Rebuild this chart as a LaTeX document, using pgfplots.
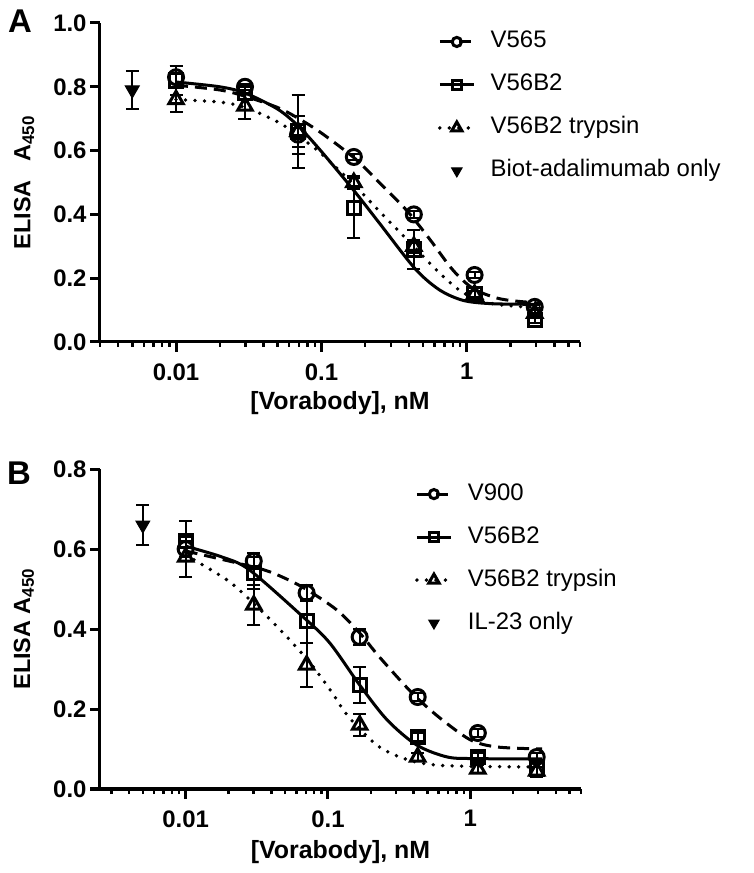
\documentclass[border=0pt]{standalone}
\usepackage{fontspec}
\setmainfont{Liberation Sans}
\usepackage{pgfplots}
\usepackage{pgfplotstable}
\pgfplotsset{compat=1.18}

% ---------- Panel A data ----------
\pgfplotstableread{
x y e
0.01 0.83 0.035
0.0298 0.80 0.01
0.069 0.65 0.06
0.167 0.58 0.01
0.432 0.40 0.01
1.13 0.21 0.01
2.93 0.11 0.01
}\AcirTab
\pgfplotstableread{
x y e
0.01 0.82 0.045
0.0298 0.78 0.02
0.069 0.66 0.115
0.167 0.42 0.095
0.432 0.29 0.06
1.13 0.15 0.02
2.93 0.07 0.01
}\AsqTab
\pgfplotstableread{
x y e
0.01 0.76 0.04
0.0298 0.74 0.04
0.069 0.66 0.05
0.167 0.50 0.02
0.432 0.30 0.02
1.13 0.15 0.01
2.93 0.09 0.01
}\AtriTab
\pgfplotstableread{
x y e
0.005 0.79 0.06
}\AonlyTab
\pgfplotstableread{
x y
0.01 0.805
0.02 0.79
0.03 0.77
0.05 0.735
0.07 0.70
0.1 0.655
0.17 0.575
0.25 0.50
0.39 0.41
0.56 0.32
0.8 0.226
1.1 0.168
1.6 0.138
2.2 0.128
3.2 0.122
}\AdashTab
\pgfplotstableread{
x y
0.01 0.815
0.02 0.80
0.03 0.78
0.05 0.73
0.07 0.675
0.1 0.597
0.165 0.478
0.25 0.373
0.44 0.23
0.65 0.163
0.95 0.13
1.5 0.12
3.2 0.118
}\AsolidTab
\pgfplotstableread{
x y
0.01 0.76
0.02 0.752
0.03 0.735
0.05 0.69
0.07 0.645
0.1 0.59
0.17 0.49
0.25 0.41
0.43 0.30
0.65 0.216
0.95 0.154
1.5 0.12
3.2 0.107
}\AdotTab

% ---------- Panel B data ----------
\pgfplotstableread{
x y e
0.01 0.60 0.02
0.0301 0.57 0.02
0.0708 0.49 0.02
0.167 0.38 0.02
0.427 0.23 0.01
1.13 0.14 0.01
2.93 0.08 0.01
}\BcirTab
\pgfplotstableread{
x y e
0.01 0.62 0.05
0.0301 0.54 0.04
0.0708 0.42 0.055
0.167 0.26 0.045
0.427 0.13 0.01
1.13 0.08 0.01
2.93 0.05 0.02
}\BsqTab
\pgfplotstableread{
x y e
0.01 0.58 0.05
0.0301 0.46 0.05
0.0708 0.31 0.055
0.167 0.16 0.028
0.427 0.08 0.01
1.13 0.05 0.01
2.93 0.045 0.01
}\BtriTab
\pgfplotstableread{
x y e
0.005 0.66 0.05
}\BonlyTab
\pgfplotstableread{
x y
0.01 0.595
0.023 0.565
0.039 0.543
0.066 0.505
0.115 0.448
0.167 0.39
0.23 0.33
0.39 0.24
0.6 0.18
1.0 0.123
1.55 0.105
3.2 0.10
}\BdashTab
\pgfplotstableread{
x y
0.01 0.607
0.018 0.58
0.028 0.548
0.067 0.43
0.103 0.365
0.167 0.26
0.26 0.173
0.42 0.11
0.69 0.08
1.1 0.076
3.2 0.075
}\BsolidTab
\pgfplotstableread{
x y
0.01 0.585
0.02 0.52
0.033 0.45
0.05 0.385
0.075 0.315
0.105 0.245
0.14 0.18
0.23 0.105
0.39 0.07
0.7 0.058
3.2 0.055
}\BdotTab

\pgfplotsset{
  dashcurve/.style={black, line width=3bp, dash pattern=on 12bp off 7bp},
  solidcurve/.style={black, line width=3bp},
  dotcurve/.style={black, line width=3.8bp, line cap=round, dash pattern=on 0bp off 9.5bp},
  cirmark/.style={mark=o, mark size=7.5bp, mark options={solid, fill=white, line width=3bp}},
  sqmark/.style={mark=square, mark size=6.6bp, mark options={solid, fill=white, line width=3bp}},
  trimark/.style={mark=triangle, mark size=8.3bp, mark options={solid, fill=white, line width=3bp}},
  onlymark/.style={mark=triangle*, mark size=8bp, mark options={solid, fill=black, rotate=180, line width=1bp}},
  eb/.style={error bars/y dir=both, error bars/y explicit,
    error bars/error bar style={line width=2bp, black, solid},
    error bars/error mark options={line width=2bp, black, mark size=6.5bp, rotate=90}},
  limg/.style={legend image code/.code={\draw[mark repeat=2,mark phase=2] plot coordinates {(0bp,0bp) (17bp,0bp) (34bp,0bp)};}},
  limgonly/.style={legend image code/.code={\draw[draw=none] plot coordinates {(17bp,0bp)};}},
}

\begin{document}
\begin{tikzpicture}
\useasboundingbox (0,0) rectangle (754bp,873bp);

% ================= Panel A =================
\begin{axis}[
  xmode=log, scale only axis,
  at={(100bp,531bp)}, anchor=south west, width=480bp, height=319bp,
  xmin=0.003, xmax=6, ymin=0, ymax=1.0,
  axis x line*=bottom, axis y line*=left,
  axis line style={line width=3bp},
  tick align=outside, major tick length=10bp, minor tick length=5bp,
  major tick style={black, line width=3bp},
  minor tick style={black, line width=2.5bp},
  xtick={0.01,0.1,1}, xticklabels={0.01,0.1,1},
  ytick={0,0.2,0.4,0.6,0.8,1.0},
  yticklabels={0.0,0.2,0.4,0.6,0.8,1.0},
  minor xtick={0.003,0.004,0.005,0.006,0.007,0.008,0.009,0.02,0.03,0.04,0.05,0.06,0.07,0.08,0.09,0.2,0.3,0.4,0.5,0.6,0.7,0.8,0.9,2,3,4,5,6},
  tick label style={font=\fontsize{24}{28}\selectfont\bfseries},
  xticklabel style={yshift=-8bp},
  clip=false,
  xlabel={{[}Vorabody{]}, nM},
  xlabel style={font=\fontsize{25}{30}\selectfont\bfseries, at={(axis description cs:0.5,-0.19)}, anchor=center},
  ylabel={ELISA\hspace{0.8em}A\textsubscript{\fontsize{17}{20}\selectfont 450}},
  ylabel style={font=\fontsize{23.5}{27}\selectfont\bfseries, at={(axis description cs:-0.158,0.5)}, anchor=center},
  legend cell align=left,
  legend style={draw=none, fill=none, inner sep=0pt, outer sep=0pt, anchor=north west,
      at={(0.704,0.975)},
      font=\fontsize{24}{29}\selectfont, row sep=21bp,
      nodes={inner sep=0pt, text height=17bp, text depth=5bp}},
]
\addlegendimage{limg, dashcurve, cirmark, mark size=4.6bp}
\addlegendentry{\hspace{15bp}V565}
\addlegendimage{limg, solidcurve, sqmark, mark size=4.6bp}
\addlegendentry{\hspace{15bp}V56B2}
\addlegendimage{limg, dotcurve, trimark, mark size=6bp}
\addlegendentry{\hspace{15bp}V56B2 trypsin}
\addlegendimage{limgonly, onlymark, mark size=6bp}
\addlegendentry{\hspace{15bp}Biot-adalimumab only}

\addplot[dotcurve, smooth, forget plot] table[x=x,y=y] {\AdotTab};
\addplot[solidcurve, smooth, forget plot] table[x=x,y=y] {\AsolidTab};
\addplot[dashcurve, smooth, forget plot] table[x=x,y=y] {\AdashTab};
\addplot[black, only marks, trimark, forget plot, eb] table[x=x,y=y,y error=e] {\AtriTab};
\addplot[black, only marks, sqmark, forget plot, eb] table[x=x,y=y,y error=e] {\AsqTab};
\addplot[black, only marks, cirmark, forget plot, eb] table[x=x,y=y,y error=e] {\AcirTab};
\addplot[black, only marks, onlymark, forget plot, eb] table[x=x,y=y,y error=e] {\AonlyTab};
\end{axis}

% ================= Panel B =================
\begin{axis}[
  xmode=log, scale only axis,
  at={(100bp,84bp)}, anchor=south west, width=481bp, height=320bp,
  xmin=0.0025, xmax=6, ymin=0, ymax=0.8,
  axis x line*=bottom, axis y line*=left,
  axis line style={line width=3bp},
  tick align=outside, major tick length=10bp, minor tick length=5bp,
  major tick style={black, line width=3bp},
  minor tick style={black, line width=2.5bp},
  xtick={0.01,0.1,1}, xticklabels={0.01,0.1,1},
  ytick={0,0.2,0.4,0.6,0.8},
  yticklabels={0.0,0.2,0.4,0.6,0.8},
  minor xtick={0.003,0.004,0.005,0.006,0.007,0.008,0.009,0.02,0.03,0.04,0.05,0.06,0.07,0.08,0.09,0.2,0.3,0.4,0.5,0.6,0.7,0.8,0.9,2,3,4,5,6},
  tick label style={font=\fontsize{24}{28}\selectfont\bfseries},
  xticklabel style={yshift=-8bp},
  clip=false,
  xlabel={{[}Vorabody{]}, nM},
  xlabel style={font=\fontsize{25}{30}\selectfont\bfseries, at={(axis description cs:0.5,-0.197)}, anchor=center},
  ylabel={ELISA A\textsubscript{\fontsize{17}{20}\selectfont 450}},
  ylabel style={font=\fontsize{23.5}{27}\selectfont\bfseries, at={(axis description cs:-0.158,0.5)}, anchor=center},
  legend cell align=left,
  legend style={draw=none, fill=none, inner sep=0pt, outer sep=0pt, anchor=north west,
      at={(0.655,0.956)},
      font=\fontsize{24}{29}\selectfont, row sep=21bp,
      nodes={inner sep=0pt, text height=17bp, text depth=5bp}},
]
\addlegendimage{limg, dashcurve, cirmark, mark size=4.6bp}
\addlegendentry{\hspace{15bp}V900}
\addlegendimage{limg, solidcurve, sqmark, mark size=4.6bp}
\addlegendentry{\hspace{15bp}V56B2}
\addlegendimage{limg, dotcurve, trimark, mark size=6bp}
\addlegendentry{\hspace{15bp}V56B2 trypsin}
\addlegendimage{limgonly, onlymark, mark size=6bp}
\addlegendentry{\hspace{15bp}IL-23 only}

\addplot[dotcurve, smooth, forget plot] table[x=x,y=y] {\BdotTab};
\addplot[solidcurve, smooth, forget plot] table[x=x,y=y] {\BsolidTab};
\addplot[dashcurve, smooth, forget plot] table[x=x,y=y] {\BdashTab};
\addplot[black, only marks, trimark, forget plot, eb] table[x=x,y=y,y error=e] {\BtriTab};
\addplot[black, only marks, sqmark, forget plot, eb] table[x=x,y=y,y error=e] {\BsqTab};
\addplot[black, only marks, cirmark, forget plot, eb] table[x=x,y=y,y error=e] {\BcirTab};
\addplot[black, only marks, onlymark, forget plot, eb] table[x=x,y=y,y error=e] {\BonlyTab};
\end{axis}

\node[font=\fontsize{33}{38}\selectfont\bfseries] at (20bp,851.5bp) {A};
\node[font=\fontsize{33}{38}\selectfont\bfseries] at (19bp,400bp) {B};
\end{tikzpicture}
\end{document}
